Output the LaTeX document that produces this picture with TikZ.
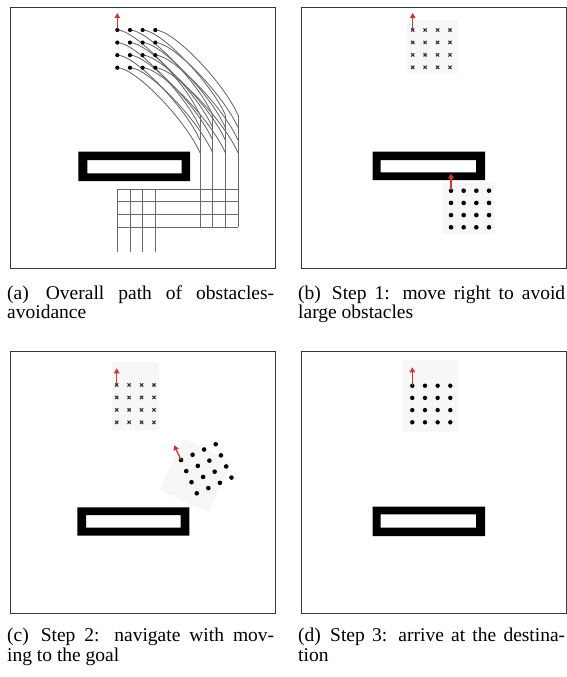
\documentclass[tikz,border=0pt]{standalone}
\usepackage{fontspec}
\setmainfont{Liberation Serif}
\usetikzlibrary{arrows.meta}
\definecolor{framegray}{RGB}{55,55,55}
\definecolor{pathgray}{RGB}{105,105,105}
\definecolor{arrowred}{RGB}{205,55,55}
\definecolor{patchgray}{RGB}{247,247,247}
\tikzset{
  frame/.style={draw=framegray, line width=0.9pt},
  obstacle/.style={fill=black, even odd rule},
  robot/.style={fill=black},
  heading/.style={draw=arrowred, line width=1.3pt, -{Triangle[length=5pt,width=5.5pt]}},
  trail/.style={draw=pathgray, line width=0.85pt},
  crossmark/.style={draw=black!80, line width=1.1pt},
  patch/.style={fill=patchgray},
  captext/.style={anchor=base west, inner sep=0pt, font=\fontsize{19.5}{22}\selectfont},
}
\newcommand{\xmark}[2]{\draw[crossmark] (#1-1.6,#2-1.6) -- (#1+1.6,#2+1.6) (#1-1.6,#2+1.6) -- (#1+1.6,#2-1.6);}
\begin{document}
\begin{tikzpicture}[x=1pt,y=-1pt]
\useasboundingbox (0,0) rectangle (567,677);
\fill[white] (0,0) rectangle (567,677);

% ---------- panel (a)
\node[frame, minimum width=265pt, minimum height=261pt, anchor=north west, inner sep=0pt] (fa) at (10,7) {};
\fill[obstacle] (78.3,151.7) rectangle (190,181) (87.3,160) rectangle (181.7,173.3);
\foreach \i in {0,...,3}{
  \foreach \j in {0,...,3}{
    \pgfmathsetmacro\sx{117.3+12.67*\i}
    \pgfmathsetmacro\sy{30+12.57*\j}
    \draw[trail] (\sx,\sy) .. controls (\sx+18,\sy) and (\sx+68,\sy+52) .. (\sx+82.7,\sy+85);
  }
}
\foreach \i in {0,...,3}{
  \pgfmathsetmacro\cx{117.3+12.67*\i}
  \draw[trail] (\cx+82.7,115) -- (\cx+82.7,227.3);
  \draw[trail] (\cx,189.3) -- (\cx,251.7);
}
\foreach \y in {189.3,201.7,214.3,227.3}{
  \draw[trail] (116.7,\y) -- (238,\y);
}
\foreach \i in {0,...,3}{
  \foreach \j in {0,...,3}{
    \fill[robot] (117.3+12.67*\i,30+12.57*\j) circle (2.1);
  }
}
\draw[heading] (117.3,29) -- (117.3,13);

% ---------- panel (b)
\node[frame, minimum width=265pt, minimum height=261pt, anchor=north west, inner sep=0pt] (fb) at (301,7) {};
\fill[patch] (407,20) rectangle (458,73);
\fill[patch] (443,182) rectangle (494,234);
\fill[obstacle] (372.7,151.7) rectangle (485,180) (380.7,160) rectangle (476,172.3);
\foreach \i in {0,...,3}{
  \foreach \j in {0,...,3}{
    \xmark{412.7+12.43*\i}{30+12.43*\j}
  }
}
\foreach \i in {0,...,3}{
  \foreach \j in {0,...,3}{
    \fill[robot] (451+12.67*\i,190.7+12.2*\j) circle (2.3);
  }
}
\draw[heading] (412.7,29) -- (412.7,13);
\draw[heading] (451,190) -- (451,173.5);

% ---------- panel (c)
\node[frame, minimum width=265pt, minimum height=262pt, anchor=north west, inner sep=0pt] (fc) at (10,351) {};
\fill[patch] (112,362) rectangle (159,430);
\fill[patch, rotate around={-24.4:(181,460)}] (174,440) rectangle (228,496);
\fill[obstacle] (77.3,507.3) rectangle (189.3,535.7) (86,515) rectangle (180.7,527.7);
\foreach \i in {0,...,3}{
  \foreach \j in {0,...,3}{
    \xmark{116.7+12.43*\i}{385+12.43*\j}
  }
}
\foreach \i in {0,...,3}{
  \foreach \j in {0,...,3}{
    \fill[robot] (181+11.57*\i+5.25*\j,460-5.25*\i+11.1*\j) circle (2.3);
  }
}
\draw[heading] (116.7,384) -- (116.7,368.3);
\draw[heading] (181,460) -- (174.2,445.2);

% ---------- panel (d)
\node[frame, minimum width=265pt, minimum height=262pt, anchor=north west, inner sep=0pt] (fd) at (301,351) {};
\fill[patch] (403,360) rectangle (458,432);
\fill[obstacle] (372.7,506.7) rectangle (485,536) (380.7,514.3) rectangle (476,527.7);
\foreach \i in {0,...,3}{
  \foreach \j in {0,...,3}{
    \fill[robot] (412.3+12.67*\i,385.7+12.2*\j) circle (2.2);
  }
}
\draw[heading] (412.3,385) -- (412.3,367.3);

% ---------- captions
\node[captext] (ca1) at (7,299) {\makebox[267pt][s]{(a)\hspace{3pt} Overall path of obstacles-}};
\node[captext] (ca2) at (7,318) {avoidance};
\node[captext] (cb1) at (298,299) {\makebox[267pt][s]{(b)\hspace{3pt} Step 1: move right to avoid}};
\node[captext] (cb2) at (298,318) {large obstacles};
\node[captext] (cc1) at (7,641) {\makebox[267pt][s]{(c)\hspace{3pt} Step 2: navigate with mov-}};
\node[captext] (cc2) at (7,661) {ing to the goal};
\node[captext] (cd1) at (298,641) {\makebox[267pt][s]{(d)\hspace{2pt} Step 3: arrive at the destina-}};
\node[captext] (cd2) at (298,661) {tion};
\end{tikzpicture}
\end{document}
